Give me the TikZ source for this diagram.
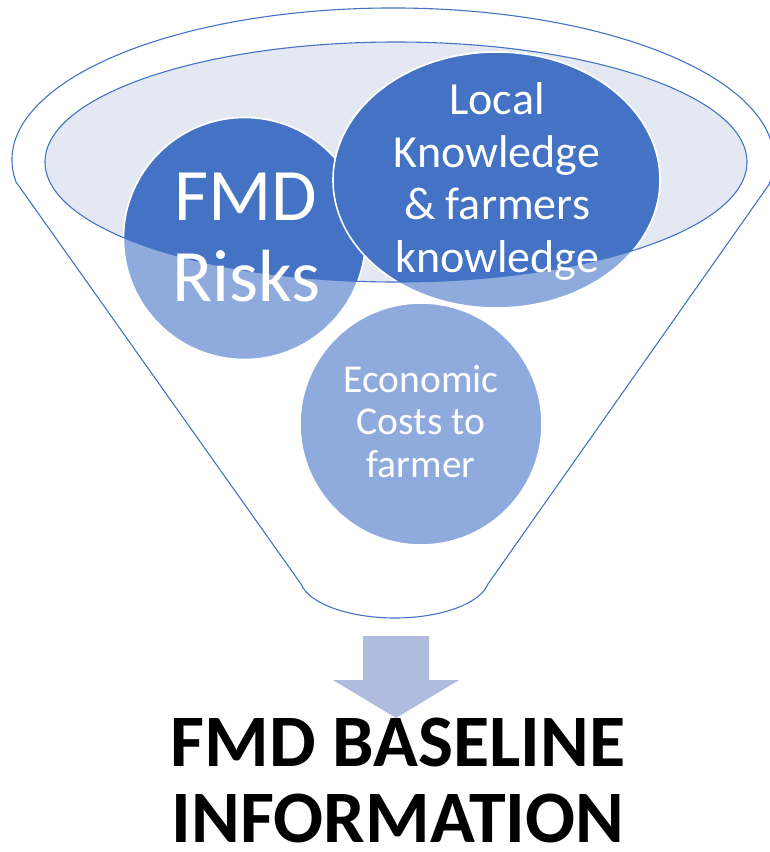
\documentclass[tikz,border=0pt]{standalone}
\usepackage{fontspec}
\setmainfont{Carlito}
\usetikzlibrary{positioning}
\definecolor{darkblu}{HTML}{4472C4}
\definecolor{lightblu}{HTML}{8FAADC}
\definecolor{paleblu}{HTML}{E4E8F3}
\definecolor{arrblu}{HTML}{AFBCDE}
\begin{document}
\begin{tikzpicture}[x=1pt,y=-1pt,
	txt/.style={text=white, align=center, inner sep=0pt, anchor=base},
	rim/.style={draw=darkblu, line width=1.1pt},
	blob/.style={draw=white, line width=1.6pt}]
\useasboundingbox (0,0) rectangle (769,852);
% mouth of the funnel
\fill [paleblu] (396,162) ellipse [x radius=351, y radius=120];
\fill [blob, fill=lightblu] (244.5,238.5) circle [radius=121];
\fill [blob, fill=lightblu] (496.5,180) ellipse [x radius=163.5, y radius=128];
\fill [blob, fill=lightblu] (421,424) circle [radius=121];
\begin{scope}
\clip (396,162) ellipse [x radius=351, y radius=120];
\fill [blob, fill=darkblu] (244.5,238.5) circle [radius=121];
\fill [blob, fill=darkblu] (496.5,180) ellipse [x radius=163.5, y radius=128];
\end{scope}
\draw [rim] (396,162) ellipse [x radius=351, y radius=120];
% body of the funnel
\draw [rim] (16,181.9) arc [start angle=171.7, end angle=369.4, x radius=381, y radius=152]
	-- (488,584) .. controls (480,604) and (440,618) .. (395,618)
	.. controls (350,618) and (309,604) .. (301,584) -- cycle;
% arrow
\fill [arrblu] (363,636) -- (429,636) -- (429,680) -- (459,680) -- (396,718)
	-- (333,680) -- (363,680) -- cycle;
\node [txt, font=\fontsize{74}{81}\selectfont] (risks) at (246,301) {FMD\\Risks};
\node [txt, font=\fontsize{46}{52.5}\selectfont] (local) at (497,272) {Local\\Knowledge\\\& farmers\\knowledge};
\node [txt, font=\fontsize{39.5}{42.5}\selectfont] (econ) at (421,477) {Economic\\Costs to\\farmer};
\node [txt, text=black, font=\bfseries\fontsize{74}{76}\selectfont] (title) at (398,842) {FMD BASELINE\\INFORMATION};
\end{tikzpicture}
\end{document}
